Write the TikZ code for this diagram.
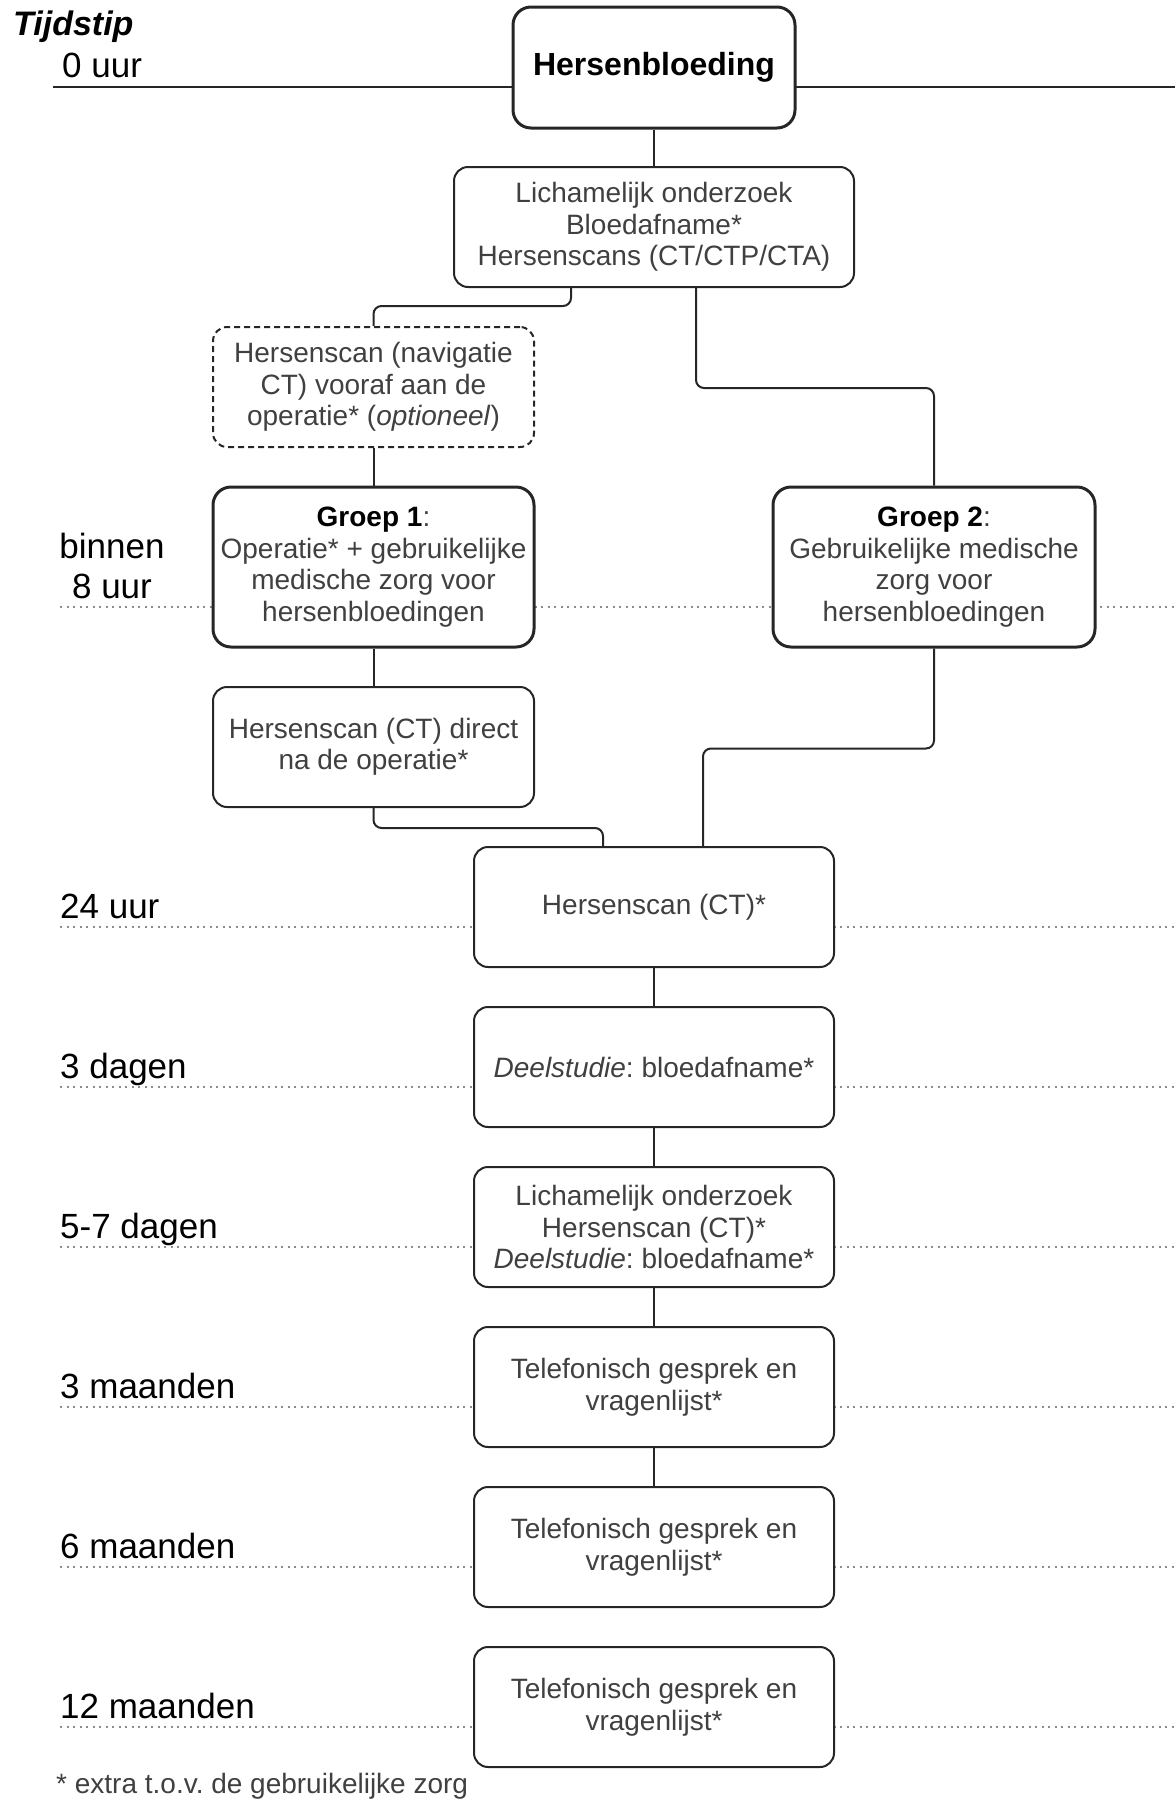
\documentclass[tikz,border=0pt]{standalone}
\usepackage{fontspec}
\setmainfont{Liberation Sans}
\usetikzlibrary{calc}
\frenchspacing

\begin{document}
\begin{tikzpicture}[x=1pt,y=-1pt,
    box/.style={draw=black!85,line width=2pt,rounded corners=14pt,fill=white,
      align=center,text=black!75,minimum height=120pt,inner sep=2pt,
      font=\fontsize{28}{31.5}\selectfont},
    mainbox/.style={box,line width=3pt,rounded corners=18pt},
    optbox/.style={box,dash pattern=on 6pt off 4pt},
    conn/.style={draw=black!85,line width=2pt,rounded corners=8pt},
    tline/.style={draw=black!45,line width=1.5pt,dash pattern=on 2pt off 4.5pt},
    tlabel/.style={anchor=base west,inner sep=0pt,font=\fontsize{35}{40}\selectfont}]
    \useasboundingbox (0,0) rectangle (1175,1802);
    % set coordinates
    \coordinate (H) at (654,67.5);
    \coordinate (O) at (654,227);
    \coordinate (V) at (373.5,387);
    \coordinate (G1) at (373.5,567);
    \coordinate (G2) at (934,567);
    \coordinate (D) at (373.5,747);
    \coordinate (T1) at (654,907);
    \coordinate (T2) at (654,1067);
    \coordinate (T3) at (654,1227);
    \coordinate (T4) at (654,1387);
    \coordinate (T5) at (654,1547);
    \coordinate (T6) at (654,1707);
    \coordinate (R) at (1175,0);
    % time lines
    \coordinate (L0) at (53,87);
    \coordinate (L8) at (60,607);
    \coordinate (L24) at (60,927);
    \coordinate (Ld3) at (60,1087);
    \coordinate (Ld5) at (60,1247);
    \coordinate (Lm3) at (60,1407);
    \coordinate (Lm6) at (60,1567);
    \coordinate (Lm12) at (60,1727);
    \draw[black!85,line width=2.5pt] (L0) -- (L0 -| R);
    \draw[tline] (L8) -- (L8 -| R);
    \draw[tline] (L24) -- (L24 -| R);
    \draw[tline] (Ld3) -- (Ld3 -| R);
    \draw[tline] (Ld5) -- (Ld5 -| R);
    \draw[tline] (Lm3) -- (Lm3 -| R);
    \draw[tline] (Lm6) -- (Lm6 -| R);
    \draw[tline] (Lm12) -- (Lm12 -| R);
    % draw boxes
    \node[mainbox,minimum width=282pt,minimum height=121pt,text=black,
      font=\fontsize{32}{36}\selectfont\bfseries] (bleed) at (H) {Hersenbloeding};
    \node[box,minimum width=400pt] (onderzoek) at (O)
      {Lichamelijk onderzoek\\Bloedafname*\\Hersenscans (CT/CTP/CTA)};
    \node[optbox,minimum width=321pt] (navct) at (V)
      {Hersenscan (navigatie\\CT) vooraf aan de\\operatie* (\textit{optioneel})};
    \node[mainbox,minimum width=321pt,minimum height=160pt] (groep1) at (G1)
      {\textcolor{black}{\textbf{Groep 1}}:\\Operatie* + gebruikelijke\\medische zorg voor\\hersenbloedingen};
    \node[mainbox,minimum width=322pt,minimum height=160pt] (groep2) at (G2)
      {\textcolor{black}{\textbf{Groep 2}}:\\Gebruikelijke medische\\zorg voor\\hersenbloedingen};
    \node[box,minimum width=321pt] (directct) at (D) {Hersenscan (CT) direct\\na de operatie*};
    \node[box,minimum width=360pt] (ct24) at (T1) {Hersenscan (CT)*};
    \node[box,minimum width=360pt] (bloed3) at (T2) {\textit{Deelstudie}: bloedafname*};
    \node[box,minimum width=360pt] (controle) at (T3)
      {Lichamelijk onderzoek\\Hersenscan (CT)*\\\textit{Deelstudie}: bloedafname*};
    \node[box,minimum width=360pt] (tel3) at (T4) {Telefonisch gesprek en\\vragenlijst*};
    \node[box,minimum width=360pt] (tel6) at (T5) {Telefonisch gesprek en\\vragenlijst*};
    \node[box,minimum width=360pt] (tel12) at (T6) {Telefonisch gesprek en\\vragenlijst*};
    % draw connections
    \draw[conn] (bleed.south) -- (onderzoek.north);
    \draw[conn] ([xshift=-83pt]onderzoek.south) -- ++(0,18) -| (navct.north);
    \draw[conn] ([xshift=42pt]onderzoek.south) -- ++(0,100) -| (groep2.north);
    \draw[conn] (navct.south) -- (groep1.north);
    \draw[conn] (groep1.south) -- (directct.north);
    \draw[conn] (directct.south) -- ++(0,20) -| ([xshift=-51pt]ct24.north);
    \draw[conn] (groep2.south) -- ++(0,100) -| ([xshift=49pt]ct24.north);
    \draw[conn] (ct24.south) -- (bloed3.north);
    \draw[conn] (bloed3.south) -- (controle.north);
    \draw[conn] (controle.south) -- (tel3.north);
    \draw[conn] (tel3.south) -- (tel6.north);
    % add labels
    \node[tlabel,font=\fontsize{34}{40}\selectfont\bfseries\itshape] (tijd) at (13,35) {Tijdstip};
    \node[tlabel] (l0) at (62,77) {0 uur};
    \node[anchor=base,align=center,inner sep=0pt,font=\fontsize{35}{40}\selectfont] (l8) at (112,598) {binnen\\8 uur};
    \node[tlabel] (l24) at ([yshift=9pt]L24) {24 uur};
    \node[tlabel] (ld3) at ([yshift=9pt]Ld3) {3 dagen};
    \node[tlabel] (ld5) at ([yshift=9pt]Ld5) {5-7 dagen};
    \node[tlabel] (lm3) at ([yshift=9pt]Lm3) {3 maanden};
    \node[tlabel] (lm6) at ([yshift=9pt]Lm6) {6 maanden};
    \node[tlabel] (lm12) at ([yshift=9pt]Lm12) {12 maanden};
    \node[anchor=base west,inner sep=0pt,text=black!75,font=\fontsize{28}{32}\selectfont] (note)
      at (56,1793) {* extra t.o.v. de gebruikelijke zorg};
\end{tikzpicture}
\end{document}
